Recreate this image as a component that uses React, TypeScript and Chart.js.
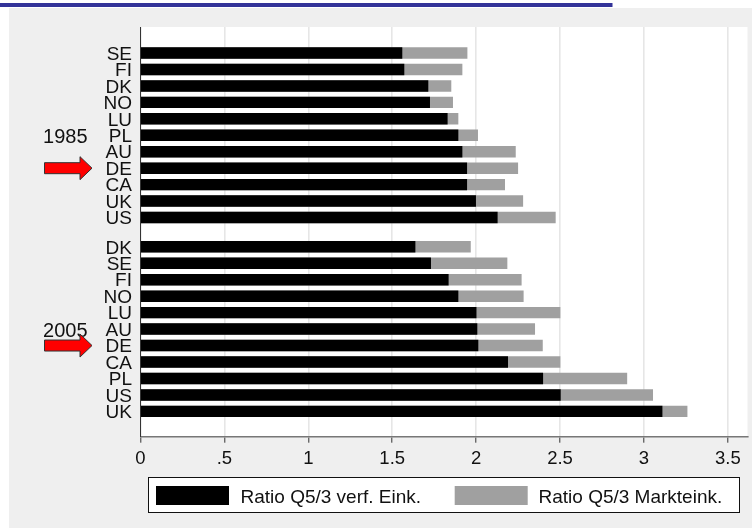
import React, { useEffect, useRef } from "react";
import { Chart, registerables } from "chart.js";

Chart.register(...registerables);

const countries1985 = ["SE", "FI", "DK", "NO", "LU", "PL", "AU", "DE", "CA", "UK", "US"];
const disposable1985 = [1.558, 1.57, 1.713, 1.723, 1.828, 1.892, 1.916, 1.944, 1.944, 1.997, 2.126];
const market1985 = [1.946, 1.916, 1.85, 1.86, 1.892, 2.009, 2.234, 2.248, 2.17, 2.278, 2.472];

const countries2005 = ["DK", "SE", "FI", "NO", "LU", "AU", "DE", "CA", "PL", "US", "UK"];
const disposable2005 = [1.636, 1.729, 1.834, 1.892, 2.0, 2.005, 2.011, 2.188, 2.397, 2.502, 3.108];
const market2005 = [1.966, 2.184, 2.269, 2.281, 2.5, 2.349, 2.395, 2.5, 2.898, 3.052, 3.257];

const xTickValues = [0, 0.5, 1, 1.5, 2, 2.5, 3, 3.5];
const xTickLabels = ["0", ".5", "1", "1.5", "2", "2.5", "3", "3.5"];

const seriesNames = ["Ratio Q5/3 verf. Eink.", "Ratio Q5/3 Markteink."];
const FONT = '"Liberation Sans", Arial, sans-serif';
const GROUP_OFFSET = 11.78;
const LABEL_NUDGE = 0.09;

const rows1985 = countries1985.map((_, i) => i);
const rows2005 = countries2005.map((_, i) => i + GROUP_OFFSET);
const allRows = [...rows1985, ...rows2005];
const allLabels = [...countries1985, ...countries2005];
const toPoints = (values: number[], rows: number[]) => values.map((x, i) => ({ x, y: rows[i] }));

const decorPlugin = {
  id: "decor",
  beforeDraw(chart: any) {
    const { ctx, width } = chart;
    ctx.save();
    ctx.fillStyle = "#ffffff";
    ctx.fillRect(0, 0, width, 529);
    ctx.fillStyle = "#efefef";
    ctx.fillRect(9, 8, width - 9, 520);
    ctx.fillStyle = "#333399";
    ctx.fillRect(0, 3, 612.5, 4);
    const a = chart.chartArea;
    ctx.fillStyle = "#ffffff";
    ctx.fillRect(a.left, a.top, a.right - a.left, a.bottom - a.top);
    ctx.restore();
  },
  afterDraw(chart: any) {
    const { ctx } = chart;
    const y = chart.scales.y;
    ctx.save();
    // group labels
    ctx.fillStyle = "#111111";
    ctx.font = `20px ${FONT}`;
    ctx.textAlign = "right";
    ctx.textBaseline = "middle";
    ctx.fillText("1985", 87.5, y.getPixelForValue(rows1985[5]) + 2);
    ctx.fillText("2005", 87.5, y.getPixelForValue(rows2005[5]) + 2);

    // arrows on the DE rows
    const deRows = [rows1985[countries1985.indexOf("DE")], rows2005[countries2005.indexOf("DE")]];
    deRows.forEach((row) => {
      const c = y.getPixelForValue(row);
      ctx.beginPath();
      ctx.moveTo(44.5, c - 5.5);
      ctx.lineTo(80, c - 5.5);
      ctx.lineTo(80, c - 11.5);
      ctx.lineTo(92, c);
      ctx.lineTo(80, c + 11.5);
      ctx.lineTo(80, c + 5.5);
      ctx.lineTo(44.5, c + 5.5);
      ctx.closePath();
      ctx.fillStyle = "#ff0000";
      ctx.fill();
      ctx.strokeStyle = "#333333";
      ctx.lineWidth = 1;
      ctx.stroke();
    });

    // legend
    ctx.fillStyle = "#ffffff";
    ctx.fillRect(148.5, 477.5, 591, 35);
    ctx.strokeStyle = "#111111";
    ctx.lineWidth = 1;
    ctx.strokeRect(148.5, 477.5, 591, 35);
    const ds = chart.data.datasets;
    ctx.fillStyle = ds[0].backgroundColor;
    ctx.fillRect(156, 486, 73, 19);
    ctx.fillStyle = ds[1].backgroundColor;
    ctx.fillRect(454.7, 486, 73, 19);
    ctx.fillStyle = "#111111";
    ctx.font = `19px ${FONT}`;
    ctx.textAlign = "left";
    ctx.fillText(ds[0].label, 240.5, 497.5);
    ctx.fillText(ds[1].label, 538.5, 497.5);
    ctx.restore();
  },
};

export default function App() {
  const ref = useRef<HTMLCanvasElement>(null);
  useEffect(() => {
    const chart = new Chart(ref.current as HTMLCanvasElement, {
      type: "bar",
      data: {
        datasets: [
          {
            label: seriesNames[0],
            data: [...toPoints(disposable1985, rows1985), ...toPoints(disposable2005, rows2005)],
            backgroundColor: "#000000",
            grouped: false,
            order: 1,
            barThickness: 10.8,
          },
          {
            label: seriesNames[1],
            data: [...toPoints(market1985, rows1985), ...toPoints(market2005, rows2005)],
            backgroundColor: "#a0a0a0",
            grouped: false,
            order: 2,
            barThickness: 10.8,
          },
        ],
      } as any,
      options: {
        indexAxis: "y",
        animation: false,
        responsive: false,
        devicePixelRatio: 1,
        layout: { padding: { left: 0, top: 27, right: 4.5, bottom: 0 } },
        plugins: { legend: { display: false }, tooltip: { enabled: false } },
        scales: {
          x: {
            type: "linear",
            min: 0,
            max: 3.617,
            afterBuildTicks: (s: any) => {
              s.ticks = xTickValues.map((value) => ({ value }));
            },
            afterFit: (s: any) => {
              s.height = 92.3;
            },
            grid: { color: "#e6e6e6", lineWidth: 1.6, tickColor: "#333333", tickLength: 6, tickWidth: 1 },
            border: { color: "#777777", width: 1.5 },
            ticks: {
              autoSkip: false,
              maxRotation: 0,
              padding: 5.5,
              color: "#111111",
              font: { family: FONT, size: 18.5 },
              callback: (_v: any, i: number) => xTickLabels[i],
            },
          },
          y: {
            type: "linear",
            reverse: true,
            offset: false,
            min: -1.58,
            max: 23.32,
            afterBuildTicks: (s: any) => {
              s.ticks = allRows.map((value) => ({ value: value + LABEL_NUDGE }));
            },
            afterFit: (s: any) => {
              s.width = 140.5;
            },
            grid: { display: false, drawTicks: false },
            border: { color: "#333333", width: 1 },
            ticks: {
              autoSkip: false,
              padding: 8.5,
              color: "#111111",
              font: { family: FONT, size: 19 },
              callback: (_v: any, i: number) => allLabels[i],
            },
          },
        },
      } as any,
      plugins: [decorPlugin],
    });
    return () => chart.destroy();
  }, []);
  return (
    <canvas
      ref={ref}
      width={752}
      height={529}
      style={{ position: "absolute", left: 0, top: 0, display: "block", width: 752, height: 529 }}
    />
  );
}
